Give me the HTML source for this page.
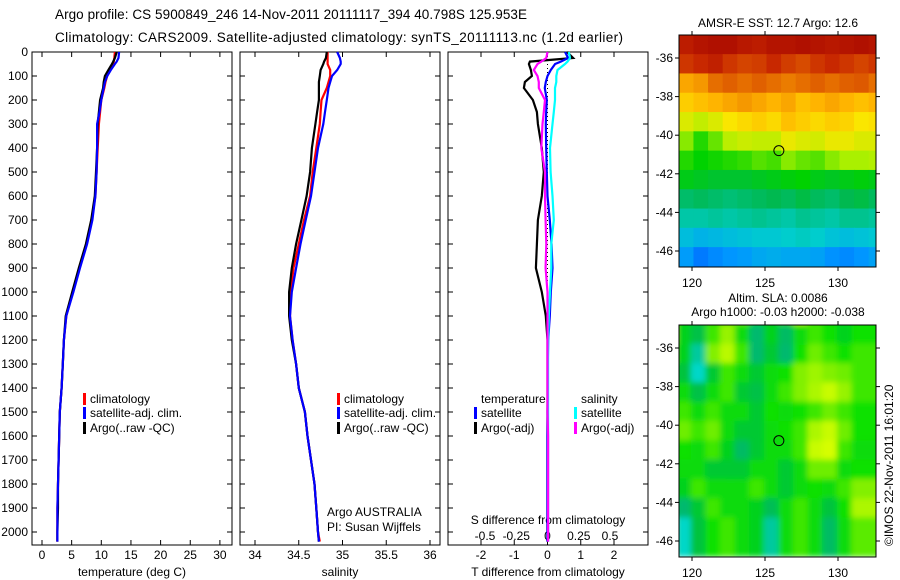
<!DOCTYPE html>
<html><head><meta charset="utf-8"><style>
html,body{margin:0;padding:0;background:#fff;}
svg{display:block;font-family:"Liberation Sans",sans-serif;}
text{font-size:12px;fill:#000;}
</style></head><body>
<svg id="chart" width="900" height="580" viewBox="0 0 900 580" xmlns="http://www.w3.org/2000/svg">
<text x="55" y="19" textLength="472" style="font-size:13.5px">Argo profile: CS 5900849_246 14-Nov-2011 20111117_394 40.798S 125.953E</text>
<text x="55" y="42" textLength="568" style="font-size:13.5px">Climatology: CARS2009. Satellite-adjusted climatology: synTS_20111113.nc (1.2d earlier)</text>
<g id="g"></g>
</svg>
<script>
// ---- profile data ----
const depths = [0,25,40,50,75,100,125,150,200,250,300,400,500,600,700,800,900,1000,1100,1200,1300,1400,1500,1600,1700,1800,1900,2000,2040];
const tempArgo = [12.6,12.3,12.0,11.8,11.2,10.6,10.4,10.3,9.8,9.6,9.4,9.3,9.1,8.9,8.3,7.4,6.2,5.1,4.0,3.7,3.5,3.3,3.0,2.9,2.8,2.7,2.7,2.6,2.6];
const tempClim = [12.3,12.2,12.1,12.0,11.5,11.0,10.7,10.5,10.0,9.8,9.6,9.4,9.2,9.0,8.4,7.5,6.3,5.2,4.1,3.7,3.5,3.3,3.0,2.9,2.8,2.7,2.6,2.6,2.6];
const tempSat = [13.0,12.9,12.6,12.3,11.6,11.0,10.6,10.4,10.0,9.7,9.3,9.3,9.2,9.0,8.5,7.6,6.4,5.3,4.1,3.7,3.5,3.3,3.0,2.9,2.8,2.7,2.6,2.6,2.6];
const salArgo = [34.82,34.81,34.79,34.78,34.75,34.74,34.73,34.73,34.73,34.71,34.69,34.65,34.63,34.59,34.53,34.47,34.42,34.39,34.39,34.42,34.47,34.50,34.57,34.60,34.64,34.68,34.70,34.72,34.73];
const salClim = [34.83,34.83,34.83,34.83,34.86,34.86,34.84,34.82,34.76,34.75,34.74,34.70,34.66,34.63,34.56,34.50,34.44,34.41,34.40,34.43,34.47,34.50,34.57,34.60,34.64,34.68,34.70,34.72,34.74];
const salSat = [34.94,34.97,34.98,34.98,34.94,34.88,34.86,34.84,34.82,34.80,34.78,34.72,34.68,34.64,34.58,34.52,34.47,34.42,34.40,34.43,34.47,34.50,34.57,34.60,34.64,34.68,34.70,34.72,34.73];
const dTArgo = [0.59,0.77,-0.53,-0.56,-0.50,-0.47,-0.68,-0.71,-0.44,-0.32,-0.29,-0.17,-0.11,-0.17,-0.29,-0.32,-0.35,-0.17,-0.05,0,0,0,0,0,0,0,0,0,0];
const dTSat = [0.53,0.62,0.40,0.23,0.10,0.0,-0.05,-0.08,-0.02,-0.04,-0.05,-0.04,-0.02,0.0,0.07,0.12,0.15,0.10,0.07,0.02,0.01,0.01,0.0,0.0,0.0,0.0,0.0,0.0,0.0];
const dSSat = [0.17,0.18,0.16,0.14,0.08,0.07,0.07,0.06,0.06,0.05,0.04,0.02,0.025,0.04,0.05,0.03,0.03,0.02,0.01,0.005,0.005,0.005,0.005,0.005,0.005,0.005,0.005,0.005,0.005];
const dSArgo = [0.0,-0.01,-0.05,-0.08,-0.11,-0.08,-0.07,-0.07,-0.02,-0.03,-0.04,-0.05,-0.02,-0.02,-0.015,-0.01,-0.015,0.0,0.0,0.0,0.0,0.0,0.0,0.005,0.005,0.005,0.005,0.005,0.005];
const depthTicks = [0,100,200,300,400,500,600,700,800,900,1000,1100,1200,1300,1400,1500,1600,1700,1800,1900,2000];
const tempTicks = [0,5,10,15,20,25,30];
const salTicks = [34,34.5,35,35.5,36];
const dTTicks = [-2,-1,0,1,2];
const dSTicks = [-0.5,-0.25,0,0.25,0.5];
const lonTicks = [120,125,130];
const latTicks = [-36,-38,-40,-42,-44,-46];
// SST map index (0 blue .. 1 dark red), rows lat -35..-46, cols lon 119..132
const sstGrid = [
[.93,.95,.96,.96,.94,.93,.95,.95,.96,.95,.94,.95,.96,.95],
[.88,.90,.92,.88,.86,.87,.90,.87,.85,.88,.90,.88,.86,.88],
[.72,.74,.80,.82,.80,.82,.80,.78,.80,.82,.80,.82,.83,.80],
[.66,.68,.70,.72,.74,.72,.70,.72,.68,.70,.72,.70,.68,.70],
[.58,.55,.58,.62,.64,.66,.64,.68,.66,.64,.66,.65,.62,.63],
[.50,.44,.48,.54,.56,.55,.55,.60,.58,.57,.60,.60,.58,.58],
[.44,.42,.43,.44,.45,.47,.46,.50,.48,.47,.50,.52,.52,.53],
[.40,.39,.38,.38,.38,.39,.40,.41,.42,.40,.39,.40,.41,.40],
[.33,.34,.33,.32,.33,.34,.35,.34,.36,.34,.33,.35,.36,.34],
[.28,.28,.29,.28,.29,.30,.29,.28,.30,.29,.28,.30,.30,.29],
[.22,.20,.21,.22,.23,.24,.24,.25,.26,.25,.23,.22,.23,.24],
[.16,.08,.12,.15,.16,.18,.19,.18,.18,.17,.14,.12,.15,.17]];
// SLA map index (0.15 teal .. 0.5 green .. 0.8 yellow)
const slaGrid = [
[.62,.50,.45,.48,.55,.60,.50,.45,.55,.72,.55,.48,.48,.50],
[.72,.45,.38,.55,.65,.48,.30,.45,.32,.48,.55,.50,.45,.50],
[.60,.45,.22,.62,.70,.55,.30,.42,.30,.50,.60,.55,.50,.55],
[.50,.40,.15,.42,.55,.48,.42,.48,.50,.62,.66,.62,.60,.55],
[.50,.48,.38,.48,.55,.42,.38,.48,.55,.62,.68,.72,.65,.55],
[.50,.55,.48,.55,.48,.48,.42,.50,.48,.50,.55,.60,.55,.50],
[.50,.60,.55,.60,.48,.42,.42,.48,.50,.55,.68,.72,.60,.50],
[.45,.50,.48,.55,.45,.32,.42,.48,.48,.55,.72,.74,.55,.48],
[.42,.48,.48,.42,.42,.42,.48,.48,.42,.48,.60,.60,.48,.50],
[.42,.45,.55,.48,.48,.48,.55,.48,.42,.48,.50,.48,.55,.62],
[.48,.30,.42,.55,.48,.48,.45,.35,.48,.55,.48,.40,.50,.68],
[.58,.15,.40,.50,.55,.48,.45,.22,.48,.55,.48,.32,.48,.58]];
const gridLat0 = -34.8, gridLon0 = 119.1;

const NS = "http://www.w3.org/2000/svg";
const root = document.getElementById('g');
function mk(tag, at, parent){ const e=document.createElementNS(NS,tag); for(const k in at) e.setAttribute(k,at[k]); (parent||root).appendChild(e); return e; }

const pTop=52, pBot=545;
const yD = d => pTop + d*0.24;
const xT = t => 42 + t*5.93;
const xS = s => 255 + (s-34)*87.5;
const xDT = v => 547.5 + v*33.25;
const xDS = v => 547.5 + v*125;
const mapL=679, mapR=876;
const xLon = l => 692 + (l-120)*14.6;
const yLat1 = a => 58 + (-36-a)*19.3;
const yLat2 = a => 348 + (-36-a)*19.3;

function panel(x0,x1,name){
  const r=mk('rect',{x:x0,y:pTop,width:x1-x0,height:pBot-pTop,fill:'none',stroke:'#000','stroke-width':1});
  
  
  depthTicks.forEach(d=>{
    const y=yD(d);
    const a=mk('line',{x1:x0,x2:x0+5,y1:y,y2:y,stroke:'#000'});
    
    
    const b=mk('line',{x1:x1-5,x2:x1,y1:y,y2:y,stroke:'#000'});
    
    
  });
}
function xTicks(vals,fx,lblY,labels,name){
  vals.forEach((v,i)=>{
    const x=fx(v);
    const a=mk('line',{x1:x,x2:x,y1:pTop,y2:pTop+5,stroke:'#000'});
    
    
    const b=mk('line',{x1:x,x2:x,y1:pBot-5,y2:pBot,stroke:'#000'});
    
    
    if(labels){
      const t=mk('text',{x:x,y:lblY,'text-anchor':'middle'});
      t.textContent=labels[i];
      
      
    }
  });
}
panel(32,232,'temperature-panel');
panel(240,440,'salinity-panel');
panel(448,648,'difference-panel');
depthTicks.forEach(d=>{
  const t=mk('text',{x:28,y:yD(d)+4,'text-anchor':'end'});
  t.textContent=String(d);
  
  
});
xTicks(tempTicks,xT,559,tempTicks.map(String),'temperature-tick-label');
xTicks(salTicks,xS,559,salTicks.map(String),'salinity-tick-label');
xTicks(dTTicks,xDT,559,dTTicks.map(String),'t-diff-tick-label');
dSTicks.forEach(v=>{
  const t=mk('text',{x:xDS(v),y:540,'text-anchor':'middle'});
  t.textContent=String(v);
  
  
});
[['temperature (deg C)',132,'temperature-axis-title'],['salinity',340,'salinity-axis-title'],['T difference from climatology',548,'t-diff-axis-title']].forEach(([s,x,n])=>{
  const t=mk('text',{x:x,y:576,'text-anchor':'middle'});
  t.textContent=s;
  
  
});
{ const t=mk('text',{x:548,y:524,'text-anchor':'middle'}); t.textContent='S difference from climatology';
  
   }
{ const t=mk('text',{x:327,y:516}); t.textContent='Argo AUSTRALIA';
  
  
  const t2=mk('text',{x:327,y:531}); t2.textContent='PI: Susan Wijffels';
  
   }

{ const l=mk('line',{x1:xDT(0),x2:xDT(0),y1:pTop,y2:pBot,stroke:'#000','stroke-dasharray':'1,3'});
  
   }

function series(vals,fx,color,name){
  const pts=vals.map((v,i)=>fx(v).toFixed(1)+','+yD(depths[i]).toFixed(1)).join(' ');
  const p=mk('polyline',{points:pts,fill:'none',stroke:color,'stroke-width':2.2});
  
  
}
series(tempClim,xT,'#f00','temp-climatology-line');
series(tempArgo,xT,'#000','temp-argo-line');
series(tempSat,xT,'#00f','temp-satellite-line');
series(salClim,xS,'#f00','sal-climatology-line');
series(salArgo,xS,'#000','sal-argo-line');
series(salSat,xS,'#00f','sal-satellite-line');
series(dTArgo,xDT,'#000','tdiff-argo-line');
series(dTSat,xDT,'#00f','tdiff-satellite-line');
series(dSSat,xDS,'#0ff','sdiff-satellite-line');
series(dSArgo,xDS,'#f0f','sdiff-argo-line');

function legend(x,y,color,label,name){
  if(color){ const b=mk('rect',{x:x,y:y-10,width:3,height:12,fill:color});
    
     }
  const t=mk('text',{x:x+7,y:y}); t.textContent=label;
  
  
}
[['#f00','climatology',403],['#00f','satellite-adj. clim.',417],['#000','Argo(..raw -QC)',432]].forEach(([c,l,y],i)=>{
  legend(83,y,c,l,'legend-entry-temp-'+i);
  legend(337,y,c,l,'legend-entry-sal-'+i);
});
legend(474,403,null,'temperature','legend-header-temperature');
legend(474,417,'#00f','satellite','legend-entry-t-satellite');
legend(474,432,'#000','Argo(-adj)','legend-entry-t-argo');
legend(574,403,null,'salinity','legend-header-salinity');
legend(574,417,'#0ff','satellite','legend-entry-s-satellite');
legend(574,432,'#f0f','Argo(-adj)','legend-entry-s-argo');

function lerpCol(stops,v){
  v=Math.max(0,Math.min(1,v));
  if(v<=stops[0][0]) { const s=stops[0]; return 'rgb('+s[1]+','+s[2]+','+s[3]+')'; }
  for(let i=1;i<stops.length;i++){ if(v<=stops[i][0]){ const a=stops[i-1],b=stops[i],f=(v-a[0])/(b[0]-a[0]||1);
    return 'rgb('+[1,2,3].map(k=>Math.round(a[k]+(b[k]-a[k])*f)).join(',')+')'; } }
  const s=stops[stops.length-1]; return 'rgb('+s[1]+','+s[2]+','+s[3]+')';
}
const sstStops=[[0,0,90,255],[0.15,0,150,255],[0.25,0,205,205],[0.35,0,185,80],[0.42,0,210,0],[0.52,170,240,0],[0.62,250,230,0],[0.7,255,180,0],[0.8,230,110,0],[0.9,200,40,0],[1,160,0,0]];
const slaStops=[[0.15,0,215,200],[0.3,0,185,110],[0.4,0,195,60],[0.5,10,225,0],[0.62,130,240,0],[0.75,220,255,0],[0.9,250,230,0]];

function drawMap(grid,stops,y0,fy,name,blur){
  const clipId=name+'-clip';
  const defs=mk('defs',{});
  const cp=mk('clipPath',{id:clipId},defs);
  mk('rect',{x:mapL,y:y0,width:mapR-mapL,height:232},cp);
  if(blur){ const f=mk('filter',{id:name+'-blur',x:'-10%',y:'-10%',width:'120%',height:'120%'},defs);
    mk('feGaussianBlur',{stdDeviation:3},f); }
  const outer=mk('g',{'clip-path':'url(#'+clipId+')'});
  
  
  const gg=mk('g',blur?{filter:'url(#'+name+'-blur)'}:{},outer);
  grid.forEach((row,r)=>row.forEach((v,c)=>{
    const lat=gridLat0-r, lon=gridLon0+c;
    const x=xLon(lon-(blur?0.5:0)), y=fy(lat+(blur?0.5:0));
    const cell=mk('rect',{x:x-(blur?10:0),y:y-(blur?10:0),width:14.6+(blur?20:1),height:19.3+(blur?20:1),fill:lerpCol(stops,v)},gg);
    
    
  }));
  const fr=mk('rect',{x:mapL,y:y0,width:mapR-mapL,height:232,fill:'none',stroke:'#000'});
  
  
  lonTicks.forEach(l=>{
    const x=xLon(l);
    const a=mk('line',{x1:x,x2:x,y1:y0-4,y2:y0,stroke:'#000'});  
    const b=mk('line',{x1:x,x2:x,y1:y0+232,y2:y0+236,stroke:'#000'});  
    const t=mk('text',{x:x,y:y0+252,'text-anchor':'middle'}); t.textContent=String(l);
    
    
  });
  latTicks.forEach(a=>{
    const y=fy(a);
    const p=mk('line',{x1:mapL-4,x2:mapL,y1:y,y2:y,stroke:'#000'});  
    const q=mk('line',{x1:mapR,x2:mapR+4,y1:y,y2:y,stroke:'#000'});  
    const t=mk('text',{x:mapL-6,y:y+4,'text-anchor':'end'}); t.textContent=String(a);
    
    
  });
  const c=mk('circle',{cx:xLon(125.95),cy:fy(-40.8),r:5,fill:'none',stroke:'#000'});
  
  
}
drawMap(sstGrid,sstStops,35,yLat1,'sst-map',false);
drawMap(slaGrid,slaStops,325,yLat2,'sla-map',true);
[['AMSR-E SST: 12.7 Argo: 12.6',778,27,'sst-map-title'],['Altim. SLA: 0.0086',778,302,'sla-map-title-1'],['Argo h1000: -0.03 h2000: -0.038',778,316,'sla-map-title-2']].forEach(([s,x,y,n])=>{
  const t=mk('text',{x:x,y:y,'text-anchor':'middle'}); t.textContent=s;
  
  
});
{ const t=mk('text',{x:0,y:0,transform:'translate(893,546) rotate(-90)'}); t.textContent='\u00A9IMOS 22-Nov-2011 16:01:20';
  
   }
</script>
</body></html>
